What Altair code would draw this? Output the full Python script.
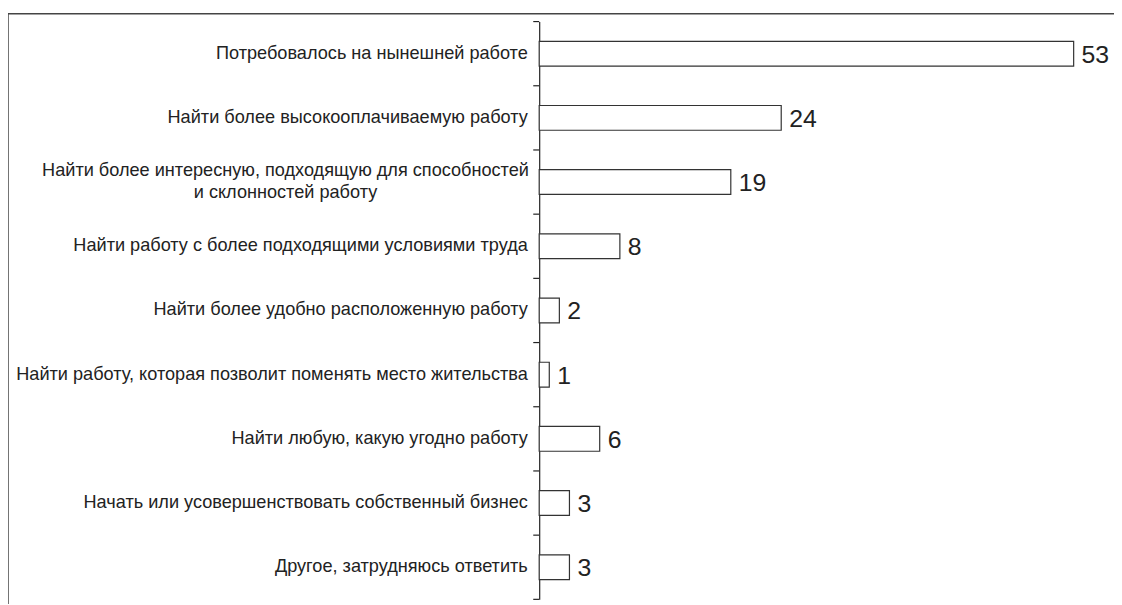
import altair as alt
import pandas as pd

categories = [
    "Потребовалось на нынешней работе",
    "Найти более высокооплачиваемую работу",
    "Найти более интересную, подходящую для способностей|и склонностей работу",
    "Найти работу с более подходящими условиями труда",
    "Найти более удобно расположенную работу",
    "Найти работу, которая позволит поменять место жительства",
    "Найти любую, какую угодно работу",
    "Начать или усовершенствовать собственный бизнес",
    "Другое, затрудняюсь ответить",
]
values = [53, 24, 19, 8, 2, 1, 6, 3, 3]

df = pd.DataFrame({"cat": categories, "value": values})
multi = df[df["cat"].str.contains("|", regex=False)].reset_index(drop=True)
dummy = pd.DataFrame({"a": [0]})

FONT = "Liberation Sans"
INK = "#222222"
W, H = 580, 583
LABEL_SIZE = 18.3

y_scale = alt.Scale(domain=categories, paddingInner=0, paddingOuter=0)
y_axis = alt.Axis(
    title=None,
    ticks=False,
    labelPadding=12,
    labelFontSize=LABEL_SIZE,
    labelFont=FONT,
    labelColor=INK,
    labelLimit=700,
    domainColor=INK,
    domainWidth=1.2,
    labelExpr="indexof(datum.value, '|') >= 0 ? '' : datum.value",
)
y_enc = alt.Y("cat:N", scale=y_scale, axis=y_axis)
x_enc = alt.X("value:Q", scale=alt.Scale(domain=[0, 57]), axis=None)

bars = alt.Chart(df).mark_bar(size=25, fill="white", stroke="#333333", strokeWidth=1.2).encode(
    x=x_enc, y=y_enc
)
nums = alt.Chart(df).mark_text(
    align="left", baseline="middle", dx=8, dy=1, fontSize=25, font=FONT, color=INK
).encode(x=x_enc, y=alt.Y("cat:N"), text="value:Q")

ticks = alt.Chart(df).mark_rule(color=INK, strokeWidth=1.2).encode(
    x=alt.value(-6), x2=alt.value(0), y=alt.Y("cat:N", bandPosition=0)
)
tick_end = alt.Chart(dummy).mark_rule(color=INK, strokeWidth=1.2).encode(
    x=alt.value(-6), x2=alt.value(0), y=alt.value(H)
)

multi_label = alt.Chart(multi).mark_text(
    align="center", baseline="middle", lineBreak="|", fontSize=LABEL_SIZE, lineHeight=23,
    dy=-11.5, font=FONT, color=INK
).encode(x=alt.value(-256), y=alt.Y("cat:N"), text="cat:N")

frame_top = alt.Chart(dummy).mark_rule(color="#444444", strokeWidth=1.5).encode(
    x=alt.value(-536), x2=alt.value(W + 40), y=alt.value(-8)
)
frame_left = alt.Chart(dummy).mark_rule(color="#444444", strokeWidth=1.5).encode(
    x=alt.value(-536), y=alt.value(-8), y2=alt.value(H + 20)
)

chart = alt.layer(bars, nums, ticks, tick_end, multi_label, frame_top, frame_left).properties(
    width=W,
    height=H,
    autosize="none",
    padding={"left": 536, "top": 11, "right": 0, "bottom": 2},
).configure_view(stroke=None)

chart.save("out.html", embed_options={"renderer": "svg", "actions": False})
